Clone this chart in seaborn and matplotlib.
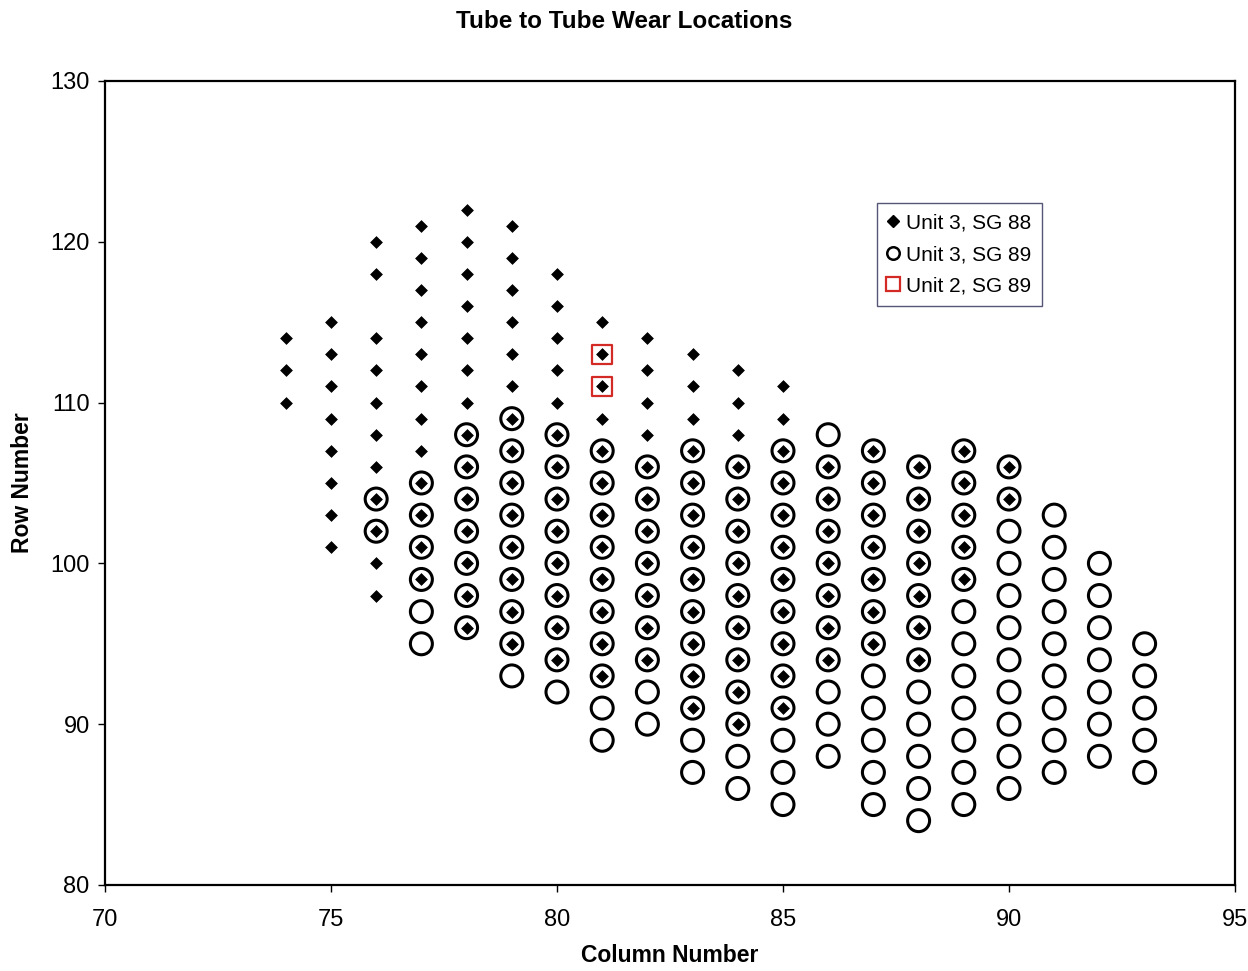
import matplotlib
matplotlib.use("Agg")
import matplotlib.pyplot as plt
from matplotlib.lines import Line2D
import seaborn as sns
import pandas as pd

# Unit 3, SG 88 (filled diamonds): column numbers and row numbers
sg88_col = ([74] * 3 + [75] * 8 + [76] * 11 + [77] * 12 + [78] * 14 + [79] * 14
            + [80] * 13 + [81] * 12 + [82] * 11 + [83] * 12 + [84] * 12 + [85] * 11
            + [86] * 7 + [87] * 7 + [88] * 7 + [89] * 5 + [90] * 2)
sg88_row = [
    114, 112, 110,
    115, 113, 111, 109, 107, 105, 103, 101,
    120, 118, 114, 112, 110, 108, 106, 104, 102, 100, 98,
    121, 119, 117, 115, 113, 111, 109, 107, 105, 103, 101, 99,
    122, 120, 118, 116, 114, 112, 110, 108, 106, 104, 102, 100, 98, 96,
    121, 119, 117, 115, 113, 111, 109, 107, 105, 103, 101, 99, 97, 95,
    118, 116, 114, 112, 110, 108, 106, 104, 102, 100, 98, 96, 94,
    115, 113, 111, 109, 107, 105, 103, 101, 99, 97, 95, 93,
    114, 112, 110, 108, 106, 104, 102, 100, 98, 96, 94,
    113, 111, 109, 107, 105, 103, 101, 99, 97, 95, 93, 91,
    112, 110, 108, 106, 104, 102, 100, 98, 96, 94, 92, 90,
    111, 109, 107, 105, 103, 101, 99, 97, 95, 93, 91,
    106, 104, 102, 100, 98, 96, 94,
    107, 105, 103, 101, 99, 97, 95,
    106, 104, 102, 100, 98, 96, 94,
    107, 105, 103, 101, 99,
    106, 104,
]

# Unit 3, SG 89 (open circles)
sg89_col = ([76] * 2 + [77] * 6 + [78] * 7 + [79] * 9 + [80] * 9 + [81] * 10
            + [82] * 9 + [83] * 11 + [84] * 11 + [85] * 12 + [86] * 11 + [87] * 12
            + [88] * 12 + [89] * 12 + [90] * 11 + [91] * 9 + [92] * 7 + [93] * 5)
sg89_row = [
    104, 102,
    105, 103, 101, 99, 97, 95,
    108, 106, 104, 102, 100, 98, 96,
    109, 107, 105, 103, 101, 99, 97, 95, 93,
    108, 106, 104, 102, 100, 98, 96, 94, 92,
    107, 105, 103, 101, 99, 97, 95, 93, 91, 89,
    106, 104, 102, 100, 98, 96, 94, 92, 90,
    107, 105, 103, 101, 99, 97, 95, 93, 91, 89, 87,
    106, 104, 102, 100, 98, 96, 94, 92, 90, 88, 86,
    107, 105, 103, 101, 99, 97, 95, 93, 91, 89, 87, 85,
    108, 106, 104, 102, 100, 98, 96, 94, 92, 90, 88,
    107, 105, 103, 101, 99, 97, 95, 93, 91, 89, 87, 85,
    106, 104, 102, 100, 98, 96, 94, 92, 90, 88, 86, 84,
    107, 105, 103, 101, 99, 97, 95, 93, 91, 89, 87, 85,
    106, 104, 102, 100, 98, 96, 94, 92, 90, 88, 86,
    103, 101, 99, 97, 95, 93, 91, 89, 87,
    100, 98, 96, 94, 92, 90, 88,
    95, 93, 91, 89, 87,
]

# Unit 2, SG 89 (red open squares)
u2_col = [81, 81]
u2_row = [113, 111]

x_ticks = [70, 75, 80, 85, 90, 95]
y_ticks = [80, 90, 100, 110, 120, 130]

df88 = pd.DataFrame({"col": sg88_col, "row": sg88_row})
df89 = pd.DataFrame({"col": sg89_col, "row": sg89_row})
dfu2 = pd.DataFrame({"col": u2_col, "row": u2_row})

sns.set_theme(style="white")
plt.rcParams["font.family"] = ["Liberation Sans", "DejaVu Sans"]
plt.rcParams["text.color"] = "black"
plt.rcParams["axes.labelcolor"] = "black"

fig = plt.figure(figsize=(12.48, 9.71), dpi=100)
ax = fig.add_axes([0.0841, 0.0886, 0.9055, 0.828])

sns.scatterplot(data=df89, x="col", y="row", ax=ax, marker="o", s=250,
                facecolor="none", edgecolor="black", linewidth=2.2, zorder=2)
sns.scatterplot(data=df88, x="col", y="row", ax=ax, marker="D", s=36,
                color="black", edgecolor="black", linewidth=0.5, zorder=3)
sns.scatterplot(data=dfu2, x="col", y="row", ax=ax, marker="s", s=200,
                facecolor="none", edgecolor="#d42a25", linewidth=1.6, zorder=4)

ax.set_xlim(70, 95)
ax.set_ylim(80, 130)
ax.set_xticks(x_ticks)
ax.set_yticks(y_ticks)
ax.tick_params(axis="both", which="major", labelsize=17, direction="out",
               length=5, width=1, color="black", bottom=True, left=True,
               labelcolor="black")
ax.tick_params(axis="x", pad=12)
ax.tick_params(axis="y", pad=6)
for sp in ax.spines.values():
    sp.set_visible(True)
    sp.set_color("black")
    sp.set_linewidth(1.6)

ax.set_xlabel("Column Number", fontsize=16.5, fontweight="bold", labelpad=10)
ax.set_ylabel("Row Number", fontsize=16.5, fontweight="bold", labelpad=12)
fig.suptitle("Tube to Tube Wear Locations", fontsize=17.5, fontweight="bold",
             y=0.99)

handles = [
    Line2D([], [], linestyle="none", marker="D", markersize=6,
           markerfacecolor="black", markeredgecolor="black"),
    Line2D([], [], linestyle="none", marker="o", markersize=9,
           markerfacecolor="none", markeredgecolor="black", markeredgewidth=1.8),
    Line2D([], [], linestyle="none", marker="s", markersize=10,
           markerfacecolor="none", markeredgecolor="#d42a25", markeredgewidth=1.6),
]
labels = ["Unit 3, SG 88", "Unit 3, SG 89", "Unit 2, SG 89"]
leg = ax.legend(handles, labels, loc="upper left",
                bbox_to_anchor=(0.683, 0.848), fontsize=15, frameon=True,
                fancybox=False, edgecolor="#555577", framealpha=1,
                handlelength=0.6, handletextpad=0.3, borderpad=0.5,
                labelspacing=0.6, borderaxespad=0)
leg.get_frame().set_linewidth(1.0)

fig.savefig("out.png", dpi=100, facecolor="white")
